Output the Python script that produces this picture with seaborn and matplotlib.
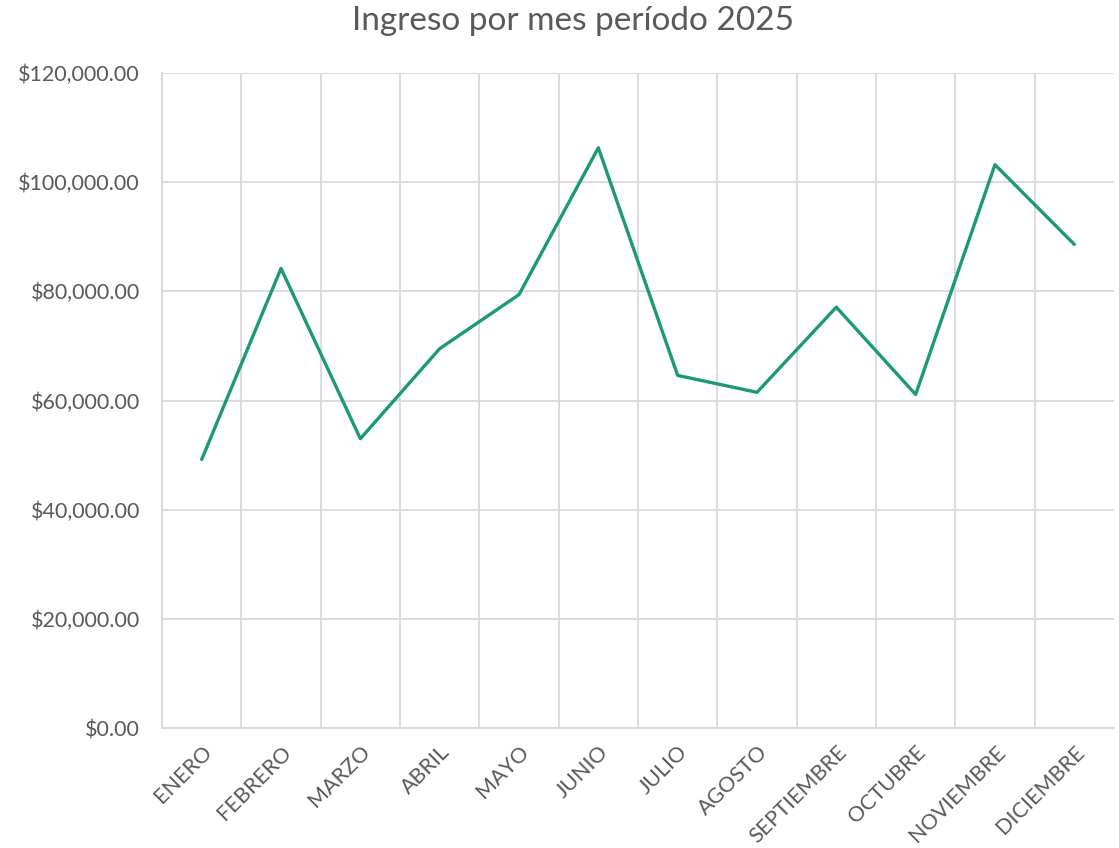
import pandas as pd
import numpy as np
import matplotlib.pyplot as plt
import seaborn as sns
from matplotlib.ticker import FuncFormatter, MultipleLocator

meses = ['ENERO', 'FEBRERO', 'MARZO', 'ABRIL', 'MAYO', 'JUNIO', 'JULIO',
         'AGOSTO', 'SEPTIEMBRE', 'OCTUBRE', 'NOVIEMBRE', 'DICIEMBRE']
ingreso = [49200, 84200, 53000, 69500, 79400, 106300, 64600,
           61500, 77100, 61100, 103200, 88600]

df = pd.DataFrame({'mes': meses, 'ingreso': ingreso})

sns.set_style('white')
plt.rcParams['font.family'] = ['Lato', 'DejaVu Sans']

fig = plt.figure(figsize=(11.19, 8.48), dpi=100)
ax = fig.add_axes([0.1448, 0.1415, 0.8507, 0.7724])

sns.lineplot(data=df, x='mes', y='ingreso', sort=False, color='#1b9a74',
             linewidth=2.4, ax=ax)

ax.set_xlim(-0.5, len(meses) - 0.5)
ax.set_ylim(0, 120000)
ax.yaxis.set_major_locator(MultipleLocator(20000))
ax.yaxis.set_major_formatter(FuncFormatter(lambda v, p: f'${v:,.2f}'))

# vertical gridlines sit between categories, like Excel
ax.set_xticks(np.arange(len(meses)))
ax.set_xticklabels(meses, rotation=45, ha='right', rotation_mode='anchor')
ax.set_xticks(np.arange(len(meses)) - 0.5, minor=True)
ax.grid(True, which='minor', axis='x', color='#d9d9d9', linewidth=1.3)
ax.grid(True, which='major', axis='y', color='#d9d9d9', linewidth=1.3)
ax.tick_params(axis='both', which='both', length=0, labelsize=15.5, colors='#595959')
ax.tick_params(axis='y', pad=16)
ax.tick_params(axis='x', pad=10)

for s in ['top', 'right']:
    ax.spines[s].set_visible(False)
for s in ['left', 'bottom']:
    ax.spines[s].set_color('#d9d9d9')
    ax.spines[s].set_linewidth(1.3)

ax.set_xlabel('')
ax.set_ylabel('')
fig.text(0.512, 0.975, 'Ingreso por mes período 2025', fontsize=24,
         color='#595959', ha='center', va='center')

fig.savefig('out.png', dpi=100)
